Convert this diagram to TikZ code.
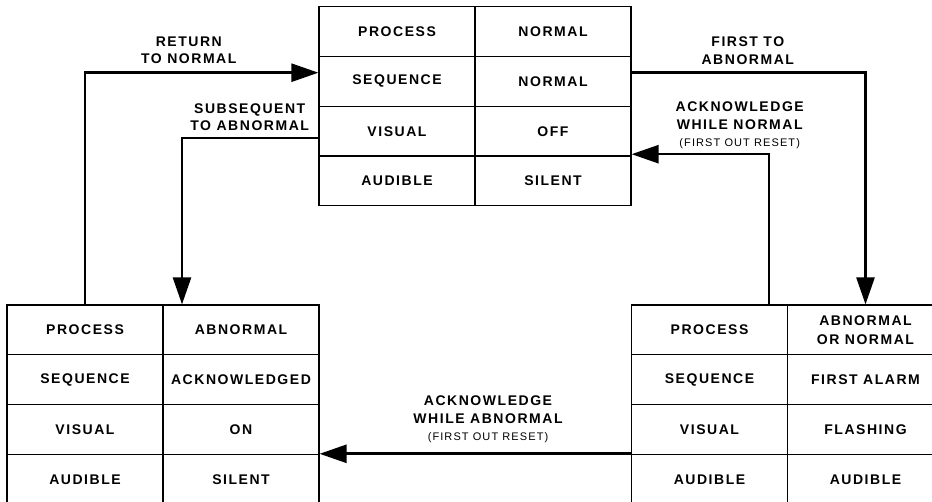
\documentclass[tikz,border=0pt]{standalone}
\usepackage{fontspec}
\setmainfont{Liberation Sans}[LetterSpace=11]
\newfontfamily\smallfont{Liberation Sans}[LetterSpace=10]
\usetikzlibrary{arrows.meta}
\tikzset{
  cell/.style={draw, line width=1.2pt, minimum width=156pt, minimum height=49.8pt,
    inner sep=0pt, align=center, font=\fontsize{14}{19}\selectfont\bfseries},
  lbl/.style={inner sep=0pt, anchor=north, align=center, font=\fontsize{14}{17.4}\selectfont\bfseries},
  arr/.style={line width=2.6pt, -{Triangle[length=27pt,width=18pt]}},
}
\newcommand{\sm}[1]{{\smallfont\mdseries\fontsize{11}{13}\selectfont #1}}
\begin{document}
\begin{tikzpicture}[x=1pt,y=-1pt]
\useasboundingbox (0,0) rectangle (932,502);
\fill[white] (0,0) rectangle (932,502);
\begin{scope}
\clip (0,0) rectangle (932,502);
% top table
\node[cell] (t11) at (397,31.6) {PROCESS};
\node[cell] (t12) at (553,31.6) {NORMAL};
\node[cell] (t21) at (397,81.4) {SEQUENCE};
\node[cell] (t22) at (553,81.4) {NORMAL};
\node[cell] (t31) at (397,131.2) {VISUAL};
\node[cell] (t32) at (553,131.2) {OFF};
\node[cell] (t41) at (397,181) {AUDIBLE};
\node[cell] (t42) at (553,181) {SILENT};
% bottom left table
\node[cell] (l11) at (85,329.9) {PROCESS};
\node[cell] (l12) at (241,329.9) {ABNORMAL};
\node[cell] (l21) at (85,379.7) {SEQUENCE};
\node[cell] (l22) at (241,379.7) {ACKNOWLEDGED};
\node[cell] (l31) at (85,429.5) {VISUAL};
\node[cell] (l32) at (241,429.5) {ON};
\node[cell] (l41) at (85,479.3) {AUDIBLE};
\node[cell] (l42) at (241,479.3) {SILENT};
% bottom right table
\node[cell] (r11) at (709.5,329.9) {PROCESS};
\node[cell] (r12) at (865.5,329.9) {ABNORMAL\\OR NORMAL};
\node[cell] (r21) at (709.5,379.7) {SEQUENCE};
\node[cell] (r22) at (865.5,379.7) {FIRST ALARM};
\node[cell] (r31) at (709.5,429.5) {VISUAL};
\node[cell] (r32) at (865.5,429.5) {FLASHING};
\node[cell] (r41) at (709.5,479.3) {AUDIBLE};
\node[cell] (r42) at (865.5,479.3) {AUDIBLE};
% connectors
\draw[arr] (l11.north) |- ([yshift=-16.8pt]t21.north west);
\draw[arr] ([yshift=-32.5pt]t31.north west) -| ([xshift=-59pt]l12.north);
\draw[arr] ([yshift=-16.8pt]t22.north east) -| (r12.north);
\draw[arr] ([xshift=59.5pt]r11.north) |- ([yshift=1.3pt]t42.north east);
\draw[arr] (r41.north west) -- (l42.north east);
% labels
\node[lbl] (la) at (188.8,36.7) {RETURN\\TO NORMAL};
\node[lbl] (lb) at (249.7,103.3) {SUBSEQUENT\\TO ABNORMAL};
\node[lbl] (lc) at (747.8,36.7) {FIRST TO\\ABNORMAL};
\node[lbl] (ld) at (739.7,101.7) {ACKNOWLEDGE\\WHILE NORMAL\\\sm{(FIRST OUT RESET)}};
\node[lbl] (le) at (488,396) {ACKNOWLEDGE\\WHILE ABNORMAL\\\sm{(FIRST OUT RESET)}};
\end{scope}
\end{tikzpicture}
\end{document}
